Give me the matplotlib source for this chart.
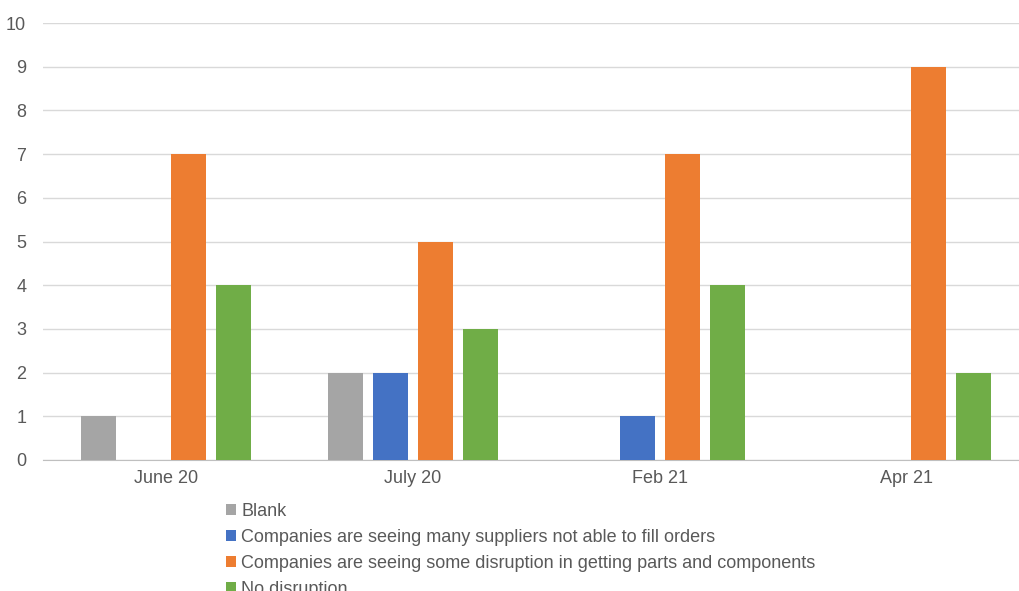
import numpy as np
import matplotlib.pyplot as plt

plt.rcParams['font.family'] = ['Liberation Sans', 'DejaVu Sans']

categories = ['June 20', 'July 20', 'Feb 21', 'Apr 21']
series_names = [
    'Blank',
    'Companies are seeing many suppliers not able to fill orders',
    'Companies are seeing some disruption in getting parts and components',
    'No disruption',
]
blank = [1, 2, 0, 0]
many_suppliers = [0, 2, 1, 0]
some_disruption = [7, 5, 7, 9]
no_disruption = [4, 3, 4, 2]
colors = ['#a5a5a5', '#4472c4', '#ed7d31', '#70ad47']

W, H = 1019, 591
fig = plt.figure(figsize=(W / 100, H / 100), dpi=100)
# plot area runs slightly past the right edge of the image, as in the reference
ax = fig.add_axes([42.8 / W, 1 - 460 / H, 987 / W, 437 / H])

x = np.arange(len(categories))
pitch = 0.182
width = 0.142
handles = []
for i, (vals, name, c) in enumerate(zip([blank, many_suppliers, some_disruption, no_disruption],
                                        series_names, colors)):
    b = ax.bar(x + (i - 1.5) * pitch, vals, width, color=c, label=name, zorder=3)
    handles.append(b)

ax.set_xlim(-0.5, len(categories) - 0.5)
ax.set_ylim(0, 10)
ax.set_yticks(range(11))
ax.set_xticks(x)
ax.set_xticklabels(categories)
ax.grid(axis='y', color='#d9d9d9', linewidth=1, zorder=0)
for s in ['top', 'right', 'left']:
    ax.spines[s].set_visible(False)
ax.spines['bottom'].set_color('#bfbfbf')
ax.tick_params(axis='both', length=0, labelsize=13, colors='#595959')
ax.tick_params(axis='y', pad=12)
ax.tick_params(axis='x', pad=7)

fig.legend(handles, series_names, loc='upper left', bbox_to_anchor=(226 / W, 1 - 503 / H),
           frameon=False, fontsize=13, labelcolor='#595959',
           handlelength=0.55, handleheight=0.55, handletextpad=0.3,
           labelspacing=0.5, borderaxespad=0, borderpad=0)

fig.savefig('out.png', dpi=100)
